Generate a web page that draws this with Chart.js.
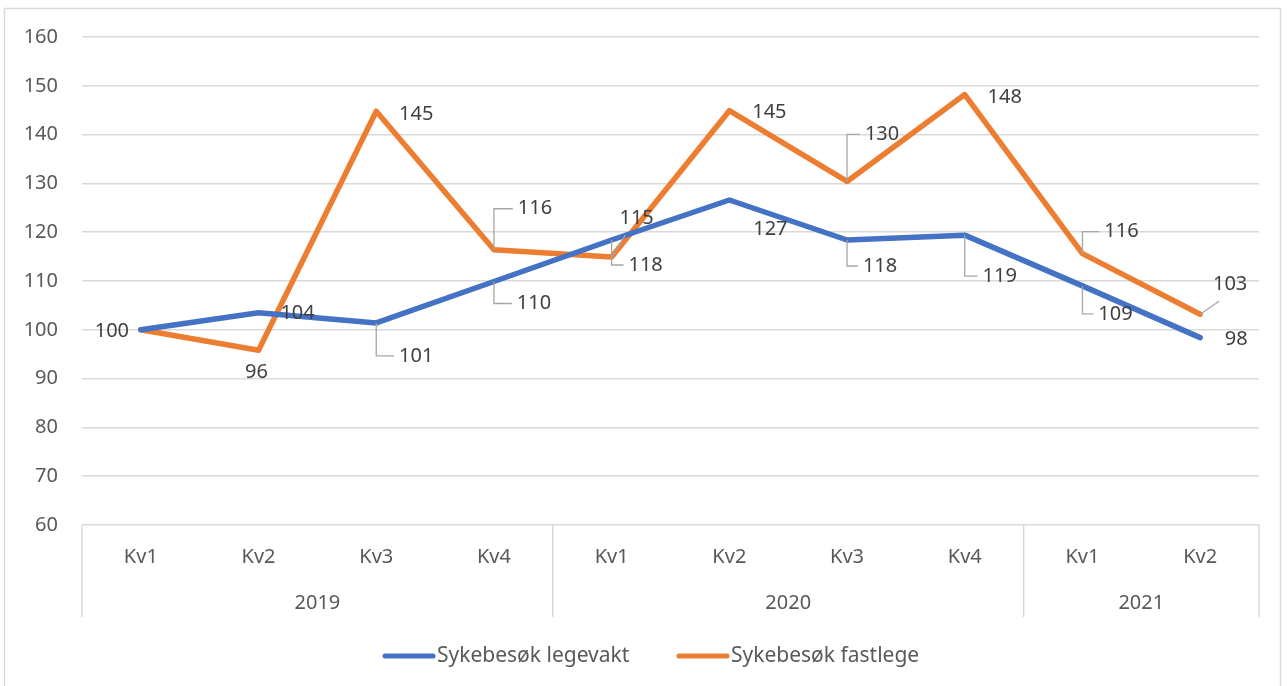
<!DOCTYPE html>
<html>
<head>
<meta charset="utf-8">
<script src="https://cdn.jsdelivr.net/npm/chart.js@4/dist/chart.umd.min.js"></script>
<style>
html,body{margin:0;padding:0;background:#fff;}
#wrap{position:relative;width:1288px;height:686px;}
</style>
</head>
<body>
<div id="wrap"><canvas id="c" width="1288" height="686"></canvas></div>
<script>
// ---- data ----
const quarters = ["Kv1","Kv2","Kv3","Kv4","Kv1","Kv2","Kv3","Kv4","Kv1","Kv2"];
const years = ["2019","2020","2021"];
const yearSpans = [4, 4, 2];
const seriesNames = ["Sykebesøk legevakt", "Sykebesøk fastlege"];
const legevakt = [100, 103.5, 101.4, 109.9, 118.4, 126.6, 118.4, 119.4, 109.0, 98.4];
const fastlege = [100, 95.8, 144.8, 116.4, 114.9, 144.9, 130.4, 148.2, 115.6, 103.2];
const yTicks = [60, 70, 80, 90, 100, 110, 120, 130, 140, 150, 160];

// ---- label placement (styling) ----
const labelPlacement = [
  [ {dx:-29,dy:1}, {dx:39,dy:1}, {dx:40,dy:33,l:'e'}, {dx:40,dy:22,l:'e'}, {dx:34,dy:25,l:'e'},
    {dx:41,dy:29}, {dx:33,dy:26,l:'e'}, {dx:35,dy:41,l:'e'}, {dx:33,dy:28,l:'e'}, {dx:36,dy:2} ],
  [ null, {dx:-2,dy:22}, {dx:40,dy:3}, {dx:41,dy:-41,l:'e'}, {dx:25,dy:-39,l:'d'},
    {dx:40,dy:2}, {dx:35,dy:-47,l:'e'}, {dx:40,dy:3}, {dx:39,dy:-22,l:'e'}, {dx:30,dy:-30,l:'d'} ]
];
const colors = ["#4472C4", "#ED7D31"];
const FONT = "Noto Sans";
const TEXT = "#595959";
const FS = 20;

const decor = {
  id: 'decor',
  beforeDraw(chart) {
    const ctx = chart.ctx;
    ctx.save();
    ctx.fillStyle = '#fff';
    ctx.fillRect(0, 0, chart.width, chart.height);
    ctx.strokeStyle = '#d9d9d9';
    ctx.lineWidth = 1.5;
    ctx.strokeRect(4.5, 8.5, 1276, 700);
    ctx.restore();
  },
  afterDraw(chart) {
    const ctx = chart.ctx;
    const x = chart.scales.x, a = chart.chartArea;
    ctx.save();
    ctx.strokeStyle = '#d9d9d9';
    ctx.lineWidth = 1.5;
    const step = x.getPixelForValue(1) - x.getPixelForValue(0);
    let idx = 0;
    const bounds = [a.left];
    yearSpans.forEach(s => { idx += s; bounds.push(x.getPixelForValue(idx - 1) + step / 2); });
    bounds.forEach(bx => {
      ctx.beginPath(); ctx.moveTo(bx, a.bottom); ctx.lineTo(bx, a.bottom + 92); ctx.stroke();
    });
    ctx.fillStyle = TEXT;
    ctx.font = FS + 'px "' + FONT + '"';
    ctx.textAlign = 'center';
    ctx.textBaseline = 'middle';
    years.forEach((y, i) => {
      ctx.fillText(y, (bounds[i] + bounds[i + 1]) / 2, a.bottom + 78);
    });
    const ly = 656;
    const items = [{x:383, t:seriesNames[0], c:colors[0]}, {x:677, t:seriesNames[1], c:colors[1]}];
    ctx.textAlign = 'left';
    ctx.lineCap = 'round';
    ctx.font = '21px "' + FONT + '"';
    items.forEach(it => {
      ctx.strokeStyle = it.c; ctx.lineWidth = 5;
      ctx.beginPath(); ctx.moveTo(it.x + 2, ly); ctx.lineTo(it.x + 50, ly); ctx.stroke();
      ctx.fillStyle = TEXT;
      ctx.fillText(it.t, it.x + 54, ly);
    });
    ctx.restore();
  },
  afterDatasetsDraw(chart) {
    const ctx = chart.ctx;
    ctx.save();
    ctx.font = FS + 'px "' + FONT + '"';
    ctx.textAlign = 'center';
    ctx.textBaseline = 'middle';
    chart.data.datasets.forEach((ds, di) => {
      const meta = chart.getDatasetMeta(di);
      meta.data.forEach((pt, i) => {
        const p = labelPlacement[di][i];
        if (!p) return;
        const txt = String(Math.round(ds.data[i]));
        const w = ctx.measureText(txt).width;
        const cx = pt.x + p.dx, cy = pt.y + p.dy;
        if (p.l) {
          ctx.strokeStyle = '#a6a6a6';
          ctx.lineWidth = 1.3;
          ctx.beginPath();
          if (p.l === 'e') {
            ctx.moveTo(pt.x, pt.y);
            ctx.lineTo(pt.x, cy);
            ctx.lineTo(cx - w / 2 - 5, cy);
          } else {
            ctx.moveTo(pt.x, pt.y);
            ctx.lineTo(cx - w / 2 + 6, cy + 17);
          }
          ctx.stroke();
        }
        ctx.fillStyle = '#404040';
        ctx.fillText(txt, cx, cy);
      });
    });
    ctx.restore();
  }
};

new Chart(document.getElementById('c'), {
  type: 'line',
  data: {
    labels: quarters,
    datasets: [
      { label: seriesNames[0], data: legevakt, borderColor: colors[0], backgroundColor: colors[0] },
      { label: seriesNames[1], data: fastlege, borderColor: colors[1], backgroundColor: colors[1] }
    ]
  },
  options: {
    responsive: false,
    animation: false,
    devicePixelRatio: 1,
    layout: { padding: { top: 37, right: 29, left: 0, bottom: 0 } },
    elements: {
      line: { borderWidth: 5.5, tension: 0, borderJoinStyle: 'round', borderCapStyle: 'round' },
      point: { radius: 0, hoverRadius: 0 }
    },
    plugins: { legend: { display: false }, tooltip: { enabled: false }, title: { display: false } },
    scales: {
      x: {
        type: 'category',
        offset: true,
        grid: { display: false, drawTicks: false },
        border: { display: false },
        ticks: { color: TEXT, font: { family: FONT, size: FS }, padding: 20, maxRotation: 0, autoSkip: false },
        afterFit(s) { s.height = 161; }
      },
      y: {
        min: 60, max: 160,
        afterBuildTicks(s) { s.ticks = yTicks.map(v => ({ value: v })); },
        grid: { color: '#d9d9d9', lineWidth: 1.5, drawTicks: false },
        border: { display: false },
        ticks: { color: TEXT, font: { family: FONT, size: FS }, padding: 24 },
        afterFit(s) { s.width = 82; }
      }
    }
  },
  plugins: [decor]
});
</script>
</body>
</html>
